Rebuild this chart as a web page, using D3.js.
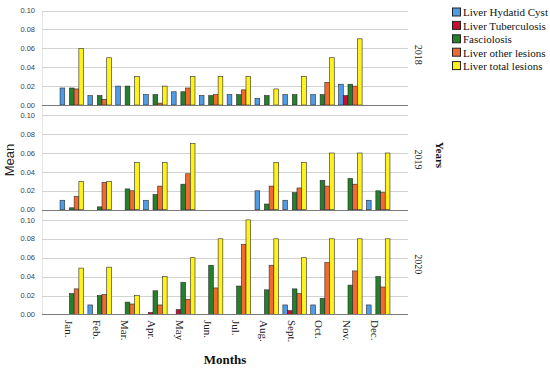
<!DOCTYPE html>
<html>
<head>
<meta charset="utf-8">
<script src="https://cdn.jsdelivr.net/npm/d3@7.9.0/dist/d3.min.js"></script>
<style>
  body { margin: 0; background: #fff; }
  svg { display: block; }
</style>
</head>
<body>
<div id="chart"></div>
<script>
// chart values
const years = ['2018', '2019', '2020'];
const months = ['Jan.', 'Feb.', 'Mar.', 'Apr.', 'May', 'Jun.', 'Jul.', 'Aug.', 'Sept.', 'Oct.', 'Nov.', 'Dec.'];
const seriesNames = ['Liver Hydatid Cyst', 'Liver Tuberculosis', 'Fasciolosis', 'Liver other lesions', 'Liver total lesions'];
const yTicks = [0, 0.02, 0.04, 0.06, 0.08, 0.10];

// one row per year (2018, 2019, 2020), one value per month
const hydatidCyst = [
  [0.018, 0.010, 0.020, 0.011, 0.014, 0.010, 0.011, 0.007, 0.011, 0.011, 0.022, 0],
  [0.010, 0, 0, 0.010, 0, 0, 0, 0.020, 0.010, 0, 0, 0.010],
  [0, 0.010, 0, 0, 0, 0, 0, 0, 0.010, 0.010, 0, 0.010]
];
const tuberculosis = [
  [0, 0, 0, 0, 0, 0, 0, 0, 0, 0, 0.010, 0],
  [0, 0, 0, 0, 0, 0, 0, 0, 0, 0, 0, 0],
  [0, 0, 0, 0.002, 0.005, 0, 0, 0, 0.004, 0, 0, 0]
];
const fasciolosis = [
  [0.018, 0.010, 0.020, 0.011, 0.014, 0.010, 0.011, 0.010, 0.011, 0.011, 0.022, 0],
  [0.002, 0.003, 0.022, 0.016, 0.027, 0, 0, 0.006, 0.018, 0.031, 0.033, 0.020],
  [0.022, 0.020, 0.013, 0.025, 0.034, 0.052, 0.030, 0.026, 0.027, 0.017, 0.031, 0.040]
];
const otherLesions = [
  [0.017, 0.006, 0, 0.002, 0.018, 0.011, 0.016, 0, 0, 0.024, 0.020, 0],
  [0.014, 0.029, 0.020, 0.025, 0.038, 0, 0, 0.025, 0.023, 0.025, 0.027, 0.018],
  [0.027, 0.021, 0.011, 0.010, 0.016, 0.028, 0.074, 0.052, 0.022, 0.055, 0.046, 0.029]
];
const totalLesions = [
  [0.060, 0.050, 0.030, 0.020, 0.030, 0.030, 0.030, 0.017, 0.030, 0.050, 0.070, 0],
  [0.030, 0.030, 0.050, 0.050, 0.070, 0, 0, 0.050, 0.050, 0.060, 0.060, 0.060],
  [0.049, 0.050, 0.020, 0.040, 0.060, 0.080, 0.100, 0.080, 0.060, 0.080, 0.080, 0.080]
];

const seriesValues = [hydatidCyst, tuberculosis, fasciolosis, otherLesions, totalLesions];
const colors = ['#4f9be6', '#c8102e', '#24802a', '#f26a30', '#fff21a'];

const width = 550;
const height = 368;
const left = 42, right = 408;
const panelTop = 10.5, panelH = 94.5, panelStep = 104.7;

const svg = d3.select('#chart')
  .append('svg')
  .attr('width', width)
  .attr('height', height);

// scales
const x = d3.scaleBand()
  .domain(months)
  .range([left, right])
  .paddingInner(0)
  .paddingOuter(0.57);

const xInner = d3.scaleBand()
  .domain(seriesNames)
  .range([0, x.bandwidth()])
  .paddingInner(0)
  .paddingOuter(0.46);

const color = d3.scaleOrdinal().domain(seriesNames).range(colors);

// faint left frame line
svg.append('line')
  .attr('x1', left + 0.5).attr('x2', left + 0.5)
  .attr('y1', panelTop).attr('y2', panelTop + 2 * panelStep + panelH)
  .attr('stroke', '#e4e4e4');

years.forEach((year, yi) => {
  const top = panelTop + yi * panelStep;
  const y = d3.scaleLinear().domain([0, 0.10]).range([top + panelH, top]);
  const g = svg.append('g').attr('class', 'panel');

  // gridlines
  g.selectAll('line.grid')
    .data(yTicks.filter(t => t > 0))
    .join('line')
    .attr('class', 'grid')
    .attr('x1', left).attr('x2', right)
    .attr('y1', d => Math.round(y(d)) + 0.5)
    .attr('y2', d => Math.round(y(d)) + 0.5)
    .attr('stroke', '#d2d2d2')
    .attr('stroke-width', 1);

  // tick labels
  g.selectAll('text.tick')
    .data(yTicks)
    .join('text')
    .attr('class', 'tick')
    .attr('x', 35)
    .attr('y', d => y(d))
    .attr('dy', '0.35em')
    .attr('text-anchor', 'end')
    .attr('font-family', 'Liberation Sans, Arial, sans-serif')
    .attr('font-size', 7.5)
    .attr('fill', '#444')
    .text(d => d3.format('.2f')(d));

  // bars
  const rows = months.map((m, mi) => ({
    month: m,
    values: seriesNames.map((s, si) => ({ series: s, value: seriesValues[si][yi][mi] }))
  }));

  g.selectAll('g.month')
    .data(rows)
    .join('g')
    .attr('class', 'month')
    .attr('transform', d => `translate(${x(d.month)},0)`)
    .selectAll('rect')
    .data(d => d.values)
    .join('rect')
    .attr('x', d => xInner(d.series))
    .attr('width', xInner.bandwidth())
    .attr('y', d => y(d.value))
    .attr('height', d => y(0) - y(d.value))
    .attr('fill', d => color(d.series))
    .attr('stroke', '#2a2a2a')
    .attr('stroke-width', 0.6);

  // baseline
  g.append('line')
    .attr('x1', left).attr('x2', right)
    .attr('y1', Math.round(y(0)) + 0.5)
    .attr('y2', Math.round(y(0)) + 0.5)
    .attr('stroke', '#7a7a7a')
    .attr('stroke-width', 1.2);

  // year label on the right
  g.append('text')
    .attr('transform', `translate(415,${top + panelH / 2 - 3}) rotate(90)`)
    .attr('text-anchor', 'middle')
    .attr('font-family', 'Liberation Serif, Times New Roman, serif')
    .attr('font-size', 10)
    .attr('fill', '#222')
    .text(year);
});

// month labels
svg.append('g')
  .selectAll('text')
  .data(months)
  .join('text')
  .attr('transform', d => `translate(${x(d) + x.bandwidth() / 2 - 7},320) rotate(90)`)
  .attr('font-family', 'Liberation Serif, Times New Roman, serif')
  .attr('font-size', 11)
  .attr('fill', '#222')
  .text(d => d);

// axis titles
svg.append('text')
  .attr('x', 225).attr('y', 364)
  .attr('text-anchor', 'middle')
  .attr('font-family', 'Liberation Serif, Times New Roman, serif')
  .attr('font-weight', 'bold')
  .attr('font-size', 13)
  .attr('fill', '#111')
  .text('Months');

svg.append('text')
  .attr('transform', 'translate(14,160) rotate(-90)')
  .attr('text-anchor', 'middle')
  .attr('font-family', 'Liberation Sans, Arial, sans-serif')
  .attr('font-size', 13)
  .attr('fill', '#222')
  .text('Mean');

svg.append('text')
  .attr('transform', 'translate(436,155) rotate(90)')
  .attr('text-anchor', 'middle')
  .attr('font-family', 'Liberation Serif, Times New Roman, serif')
  .attr('font-weight', 'bold')
  .attr('font-size', 11)
  .attr('fill', '#111')
  .text('Years');

// legend
const legend = svg.append('g')
  .selectAll('g')
  .data(seriesNames)
  .join('g')
  .attr('transform', (d, i) => `translate(452,${12.5 + i * 13.4})`);

legend.append('rect')
  .attr('x', 0.5).attr('y', -4.5)
  .attr('width', 8).attr('height', 8)
  .attr('fill', d => color(d))
  .attr('stroke', '#222')
  .attr('stroke-width', 1);

legend.append('text')
  .attr('x', 11).attr('y', 0)
  .attr('dy', '0.35em')
  .attr('font-family', 'Liberation Serif, Times New Roman, serif')
  .attr('font-size', 11)
  .attr('fill', '#111')
  .text(d => d);
</script>
</body>
</html>
